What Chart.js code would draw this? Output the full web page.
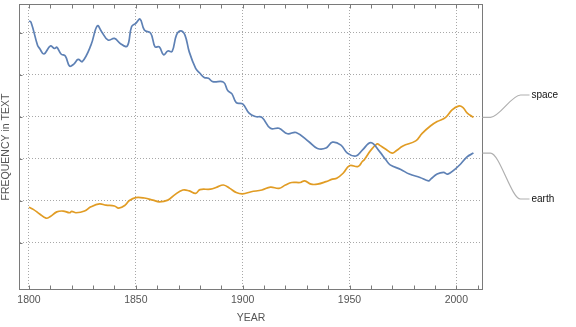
<!DOCTYPE html>
<html>
<head>
<meta charset="utf-8">
<script src="https://cdn.jsdelivr.net/npm/chart.js@4"></script>
<style>
html, body { margin: 0; padding: 0; background: #fff; }
</style>
</head>
<body>
<canvas id="grafico" width="576" height="327"></canvas>
<script>
// earth (azul)
const anosEarth = [1800, 1801, 1804, 1805, 1807, 1810, 1812, 1813, 1815, 1817, 1819, 1821, 1823, 1825, 1829,
    1832, 1834, 1837, 1840, 1843, 1846, 1848, 1850, 1852, 1854, 1857, 1859, 1861, 1863, 1865, 1867, 1869,
    1871, 1873, 1875, 1878, 1880, 1882, 1884, 1886, 1891, 1893, 1895, 1897, 1900, 1903, 1906, 1909, 1913,
    1917, 1921, 1925, 1931, 1935, 1939, 1942, 1946, 1949, 1953, 1956, 1960, 1964, 1967, 1969, 1974, 1978,
    1983, 1987, 1988, 1991, 1994, 1996, 1999, 2002, 2005, 2008];
const valoresEarth = [6.29, 6.25, 5.71, 5.63, 5.50, 5.69, 5.63, 5.66, 5.50, 5.45, 5.21, 5.26, 5.37, 5.32, 5.71,
    6.17, 6.03, 5.83, 5.87, 5.74, 5.69, 6.15, 6.23, 6.33, 6.07, 5.99, 5.67, 5.67, 5.48, 5.57, 5.56, 5.95,
    6.05, 5.95, 5.55, 5.16, 5.04, 4.94, 4.92, 4.84, 4.83, 4.63, 4.55, 4.34, 4.31, 4.09, 4.01, 3.99, 3.73,
    3.73, 3.60, 3.63, 3.41, 3.25, 3.26, 3.40, 3.33, 3.14, 3.07, 3.21, 3.39, 3.18, 2.98, 2.86, 2.75, 2.64,
    2.56, 2.48, 2.52, 2.64, 2.68, 2.64, 2.74, 2.88, 3.05, 3.14];

// space (laranja)
const anosSpace = [1800, 1802, 1805, 1808, 1810, 1813, 1816, 1819, 1820, 1822, 1826, 1829, 1833, 1836, 1840,
    1842, 1845, 1847, 1850, 1854, 1858, 1861, 1865, 1868, 1872, 1875, 1878, 1880, 1885, 1888, 1891, 1894,
    1897, 1900, 1904, 1909, 1913, 1917, 1920, 1923, 1927, 1929, 1932, 1935, 1939, 1942, 1944, 1947, 1950,
    1954, 1956, 1957, 1960, 1963, 1964, 1967, 1970, 1972, 1975, 1981, 1984, 1988, 1991, 1995, 1998, 2001,
    2003, 2005, 2008];
const valoresSpace = [1.85, 1.80, 1.69, 1.59, 1.63, 1.74, 1.76, 1.72, 1.75, 1.72, 1.76, 1.86, 1.93, 1.90, 1.88,
    1.83, 1.90, 2.01, 2.08, 2.07, 2.02, 1.98, 2.02, 2.14, 2.26, 2.24, 2.18, 2.27, 2.28, 2.33, 2.38, 2.30,
    2.20, 2.17, 2.22, 2.26, 2.33, 2.30, 2.38, 2.44, 2.44, 2.48, 2.40, 2.40, 2.46, 2.52, 2.54, 2.66, 2.84,
    2.82, 2.94, 2.99, 3.21, 3.36, 3.33, 3.23, 3.14, 3.20, 3.31, 3.43, 3.61, 3.79, 3.89, 3.99, 4.17, 4.26,
    4.23, 4.10, 3.99];

const ticksAnos = [1800, 1850, 1900, 1950, 2000];
const ticksFreq = [1, 2, 3, 4, 5, 6];
const nomes = ['earth', 'space'];

const corEixo = '#7a7a7a';
const corTexto = '#555555';
const fonte = 'Liberation Sans, Arial, sans-serif';

function pontos(anos, valores) {
    return anos.map((a, i) => ({ x: a, y: valores[i] }));
}

// moldura estilo Mathematica + rotulos com linhas de chamada
const moldura = {
    id: 'moldura',
    afterDraw(chart, args, opts) {
        const { ctx, chartArea: a, scales: { x, y } } = chart;
        ctx.save();
        ctx.strokeStyle = corEixo;
        ctx.lineWidth = 1;
        const L = Math.round(a.left) - 0.5, R = Math.round(a.right) + 0.5;
        const T = Math.round(a.top) + 0.5, B = Math.round(a.bottom) - 0.5;
        ctx.strokeRect(L, T, R - L, B - T);
        ctx.beginPath();
        for (let ano = 1800; ano <= 2010; ano += 10) {
            const px = Math.round(x.getPixelForValue(ano)) + 0.5;
            ctx.moveTo(px, B); ctx.lineTo(px, B - 4);
            ctx.moveTo(px, T); ctx.lineTo(px, T + 4);
        }
        y.ticks.forEach(t => {
            const py = Math.round(y.getPixelForValue(t.value)) + 0.5;
            ctx.moveTo(L, py); ctx.lineTo(L + 3, py);
        });
        ctx.stroke();

        ctx.strokeStyle = '#b0b0b0';
        ctx.lineWidth = 1.2;
        ctx.fillStyle = '#111';
        ctx.font = '10px ' + fonte;
        ctx.textBaseline = 'middle';
        opts.rotulos.forEach((yl, i) => {
            const meta = chart.getDatasetMeta(i);
            const ult = meta.data[meta.data.length - 1];
            const x0 = R, y0 = ult.y;
            ctx.beginPath();
            ctx.moveTo(x0, y0);
            ctx.lineTo(x0 + 8, y0);
            ctx.bezierCurveTo(x0 + 17, y0, x0 + 29, yl, x0 + 38, yl);
            ctx.lineTo(x0 + 47, yl);
            ctx.stroke();
            ctx.fillText(nomes[i], x0 + 49, yl);
        });
        ctx.restore();
    }
};

const ctx = document.getElementById('grafico').getContext('2d');
new Chart(ctx, {
    type: 'line',
    data: {
        datasets: [
            { label: nomes[0], data: pontos(anosEarth, valoresEarth), borderColor: '#5E81B5', borderWidth: 1.7,
              pointRadius: 0, tension: 0.4, fill: false },
            { label: nomes[1], data: pontos(anosSpace, valoresSpace), borderColor: '#E19C24', borderWidth: 1.7,
              pointRadius: 0, tension: 0.4, fill: false }
        ]
    },
    options: {
        responsive: false,
        animation: false,
        layout: { padding: { top: 4, right: 94, left: 0, bottom: 0 } },
        plugins: {
            legend: { display: false },
            tooltip: { enabled: false },
            moldura: { rotulos: [199, 95] }
        },
        scales: {
            x: {
                type: 'linear',
                min: 1795.8,
                max: 2012,
                afterBuildTicks: s => { s.ticks = ticksAnos.map(v => ({ value: v })); },
                afterFit: s => { s.height = 37; },
                grid: { color: '#a8a8a8', lineWidth: 1, drawTicks: false },
                border: { display: false, dash: [1, 2] },
                ticks: { color: corTexto, font: { family: fonte, size: 10.5 }, padding: 3.5, maxRotation: 0,
                         callback: v => String(v) },
                title: { display: true, text: 'YEAR', color: corTexto, font: { family: fonte, size: 10.5 },
                         padding: { top: 0, bottom: 2.5 } }
            },
            y: {
                min: -0.12,
                max: 6.69,
                afterBuildTicks: s => { s.ticks = ticksFreq.map(v => ({ value: v })); },
                afterFit: s => { s.width = 20; },
                grid: { color: '#a8a8a8', lineWidth: 1, drawTicks: false },
                border: { display: false, dash: [1, 2] },
                ticks: { display: false },
                title: { display: true, text: 'FREQUENCY in TEXT', color: corTexto, font: { family: fonte, size: 10.5 },
                         padding: { top: 0, bottom: 0 } }
            }
        }
    },
    plugins: [moldura]
});
</script>
</body>
</html>
